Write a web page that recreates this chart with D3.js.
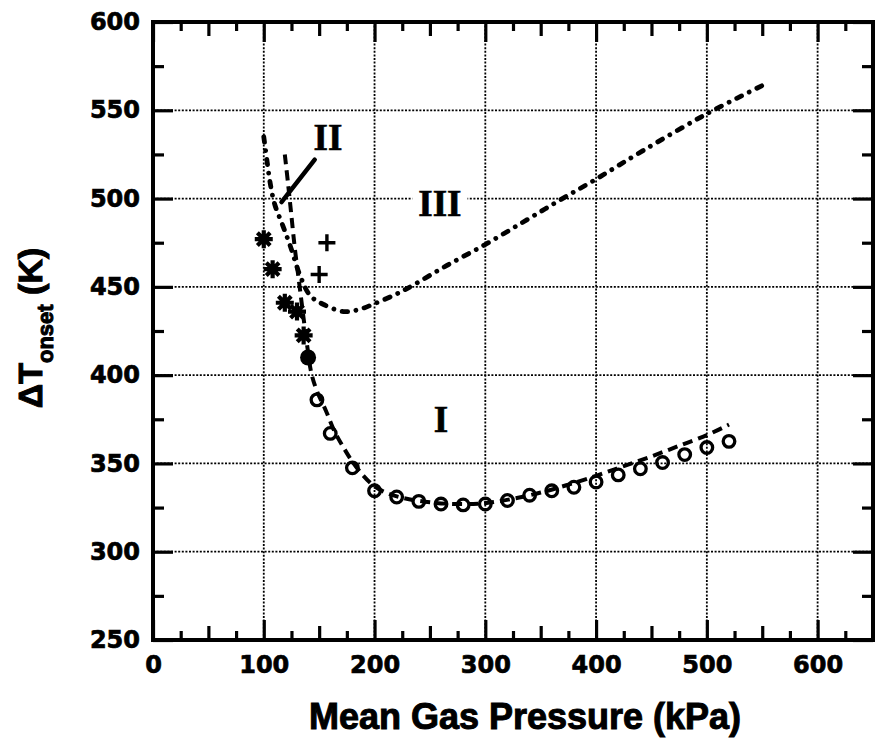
<!DOCTYPE html>
<meta charset="utf-8">
<head>
<style>
body { margin: 0; background: #fff; }
.axis path.domain { display: none; }
.axis line { stroke: #000; stroke-width: 3.2; }
.axis text { font: bold 24px "DejaVu Sans"; fill: #000; stroke: #000; stroke-width: 0.7; }
.grid line { stroke: #000; stroke-width: 1.8; stroke-dasharray: 2,1.6; }
.title { font: bold 36px "Liberation Sans"; fill: #000; stroke: #000; stroke-width: 1; }
.region { font: bold 37px "Liberation Serif"; fill: #000; stroke: #000; stroke-width: 0.6; }
</style>
</head>
<body>
<script src="https://d3js.org/d3.v7.min.js"></script>
<script>

// axis ticks
var xTicks = [0, 100, 200, 300, 400, 500, 600];
var yTicks = [250, 300, 350, 400, 450, 500, 550, 600];

// open circles (measured onset)
var openP = [148, 160, 180, 200, 220, 240, 260, 280, 300, 320, 340, 360, 380, 400, 420, 440, 460, 480, 500, 520];
var openT = [386, 367, 347.5, 334.5, 331, 328.5, 327, 326.5, 327, 329, 332, 334.5, 336.5, 339.5, 343.5, 347, 350.5, 355, 359, 362.5];

// filled circle
var filledP = [140];
var filledT = [410];

// asterisks
var starP = [100, 108, 119, 130, 136];
var starT = [477, 460, 441, 436, 422.5];

// plus signs
var plusP = [150, 157];
var plusT = [457, 475];

// dashed curve (region I boundary)
var curveIP = [119, 122, 125, 128, 131, 134, 137, 140, 143, 148, 156, 164, 172, 180, 190, 200, 212, 225, 250, 275, 300, 325, 350, 375, 400, 425, 450, 475, 500, 520];
var curveIT = [525, 508, 490, 472, 457, 442, 427, 413, 401, 391, 380, 368, 359, 351, 343, 337, 333, 330.5, 328, 327, 327.5, 330, 333.5, 338, 343, 348.5, 354, 360, 366, 372];

// dash-dot curve (region III boundary)
var curveIIIP = [100, 103, 106, 110, 117, 124, 133, 142, 154, 172, 185, 200, 220, 235, 265, 300, 335, 367, 400, 442, 500, 550];
var curveIIIT = [535, 521, 508, 496.5, 485, 473, 456, 445, 440, 436, 437, 440.5, 446, 451, 462, 474, 487, 499, 511, 527, 548, 564];

// region labels
var regionText = ["I", "II", "III"];
var regionP = [260, 158, 259];
var regionT = [368, 527.5, 490];

// pointer from label II
var pointerP = [146, 116];
var pointerT = [522, 498];

var margin = { top: 22, right: 8, bottom: 115, left: 153 },
    width = 881 - margin.left - margin.right,
    height = 755 - margin.top - margin.bottom;

var x = d3.scaleLinear().domain([0, 650]).range([0, width]);
var y = d3.scaleLinear().domain([250, 600]).range([height, 0]);

var svg = d3.select("body").append("svg")
    .attr("width", 881)
    .attr("height", 755)
    .style("display", "block");

svg.append("rect").attr("width", 881).attr("height", 755).attr("fill", "#fff");

var g = svg.append("g")
    .attr("transform", "translate(" + margin.left + "," + margin.top + ")");

// dotted grid
var grid = g.append("g").attr("class", "grid");
grid.selectAll(".gx")
    .data(xTicks.filter(function (d) { return d > 0; }))
    .enter().append("line")
    .attr("x1", function (d) { return x(d); })
    .attr("x2", function (d) { return x(d); })
    .attr("y1", 0).attr("y2", height);
grid.selectAll(".gy")
    .data(yTicks.filter(function (d) { return d > 250 && d < 600; }))
    .enter().append("line")
    .attr("x1", 0).attr("x2", width)
    .attr("y1", function (d) { return y(d); })
    .attr("y2", function (d) { return y(d); });

// inward ticks on all four sides
function tickRow(axisFn, scale, vals, size, tr) {
    g.append("g")
        .attr("class", "axis")
        .attr("transform", tr || null)
        .call(axisFn(scale).tickValues(vals).tickSize(-size).tickFormat(""));
}
var x25 = d3.range(25, 650, 50);
var x50 = [50, 150, 250, 350, 450, 550];
var y25 = d3.range(275, 600, 50);
[["b", "translate(0," + height + ")"], ["t", null]].forEach(function (s) {
    var fn = s[0] == "b" ? d3.axisBottom : d3.axisTop;
    tickRow(fn, x, x25, 9, s[1]);
    tickRow(fn, x, x50, 14, s[1]);
    if (s[0] == "t") tickRow(fn, x, xTicks, 20, s[1]);
});
tickRow(d3.axisRight, y, y25, 11, "translate(" + width + ",0)");
tickRow(d3.axisRight, y, yTicks, 20, "translate(" + width + ",0)");
tickRow(d3.axisLeft, y, y25, 11);

// labelled axes
g.append("g")
    .attr("class", "axis")
    .attr("transform", "translate(0," + height + ")")
    .call(d3.axisBottom(x).tickValues(xTicks).tickSize(-20).tickPadding(16).tickFormat(d3.format("d")));

g.append("g")
    .attr("class", "axis")
    .call(d3.axisLeft(y).tickValues(yTicks).tickSize(-20).tickPadding(13).tickFormat(d3.format("d")));

// frame
g.append("rect")
    .attr("width", width).attr("height", height)
    .attr("fill", "none").attr("stroke", "#000").attr("stroke-width", 4);

// curves
var line = d3.line()
    .x(function (d) { return x(d[0]); })
    .y(function (d) { return y(d[1]); })
    .curve(d3.curveCatmullRom);

g.append("path")
    .datum(curveIIIP.map(function (p, i) { return [p, curveIIIT[i]]; }))
    .attr("d", line)
    .attr("fill", "none").attr("stroke", "#000")
    .attr("stroke-width", 4.8).attr("stroke-linecap", "round")
    .attr("stroke-dasharray", "5.5,8.5,0.01,8.5");

g.append("path")
    .datum(curveIP.map(function (p, i) { return [p, curveIT[i]]; }))
    .attr("d", line)
    .attr("fill", "none").attr("stroke", "#000")
    .attr("stroke-width", 4)
    .attr("stroke-dasharray", "10,6");

// label III sits on a white box
var lab = g.selectAll(".region")
    .data(regionText)
    .enter().append("text")
    .attr("class", "region")
    .attr("text-anchor", "middle")
    .attr("x", function (d, i) { return x(regionP[i]); })
    .attr("y", function (d, i) { return y(regionT[i]); })
    .text(function (d) { return d; });
lab.filter(function (d) { return d == "III"; }).each(function () {
    var b = this.getBBox();
    g.insert("rect", function () { return this; }.bind(this))
        .attr("x", b.x - 6).attr("y", b.y + 4)
        .attr("width", b.width + 12).attr("height", b.height - 6)
        .attr("fill", "#fff");
});

g.append("line")
    .attr("x1", x(pointerP[0])).attr("y1", y(pointerT[0]))
    .attr("x2", x(pointerP[1])).attr("y2", y(pointerT[1]))
    .attr("stroke", "#000").attr("stroke-width", 4.5).attr("stroke-linecap", "round");

// markers
g.selectAll(".open")
    .data(openP)
    .enter().append("circle")
    .attr("cx", function (d) { return x(d); })
    .attr("cy", function (d, i) { return y(openT[i]); })
    .attr("r", 5.8)
    .attr("fill", "none").attr("stroke", "#000").attr("stroke-width", 3.3);

g.selectAll(".filled")
    .data(filledP)
    .enter().append("circle")
    .attr("cx", function (d) { return x(d); })
    .attr("cy", function (d, i) { return y(filledT[i]); })
    .attr("r", 8)
    .attr("fill", "#000");

var s = 9, k = 6.4;
g.selectAll(".star")
    .data(starP)
    .enter().append("path")
    .attr("transform", function (d, i) { return "translate(" + x(d) + "," + y(starT[i]) + ")"; })
    .attr("d", "M" + -s + ",0H" + s + "M0," + -s + "V" + s +
               "M" + -k + "," + -k + "L" + k + "," + k + "M" + -k + "," + k + "L" + k + "," + -k)
    .attr("stroke", "#000").attr("stroke-width", 4.2);

var c = 8.5;
g.selectAll(".plus")
    .data(plusP)
    .enter().append("path")
    .attr("transform", function (d, i) { return "translate(" + x(d) + "," + y(plusT[i]) + ")"; })
    .attr("d", "M" + -c + ",0H" + c + "M0," + -c + "V" + c)
    .attr("stroke", "#000").attr("stroke-width", 3.4);

// axis titles
svg.append("text")
    .attr("class", "title")
    .attr("text-anchor", "middle")
    .attr("x", 525)
    .attr("y", 729)
    .text("Mean Gas Pressure (kPa)");

var yt = svg.append("text")
    .attr("class", "title")
    .attr("text-anchor", "middle")
    .attr("transform", "translate(42,328) rotate(-90)")
    .style("font-size", "34px");
yt.append("tspan").text("\u0394T");
yt.append("tspan").attr("dy", 11).style("font-size", "22px").text("onset");
yt.append("tspan").attr("dy", -11).text(" (K)");

</script>
</body>
